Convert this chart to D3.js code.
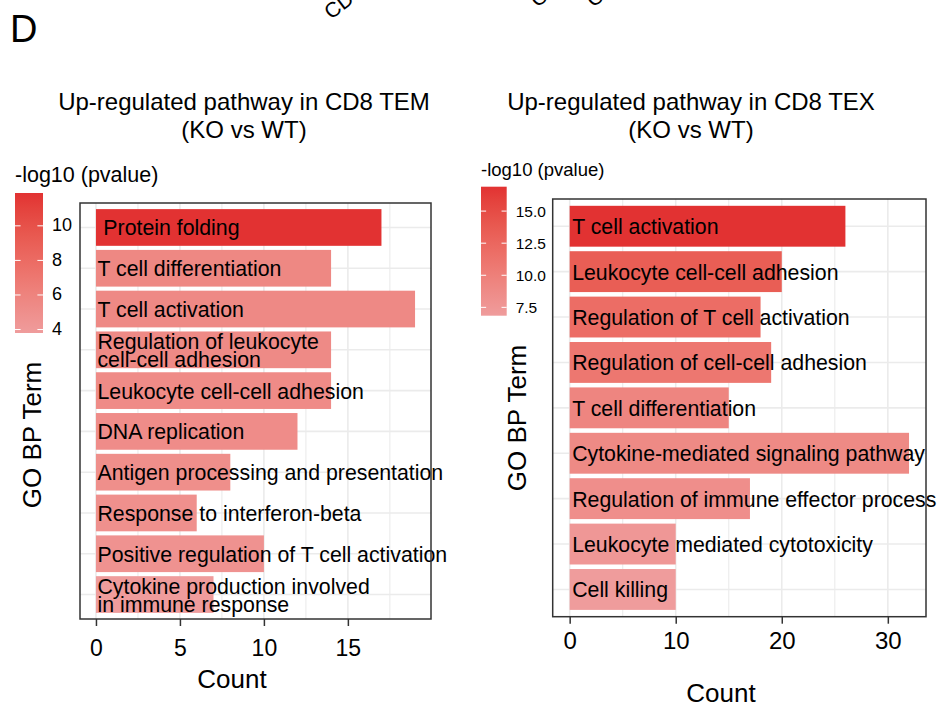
<!DOCTYPE html>
<html>
<head>
<meta charset="utf-8">
<script src="https://cdn.jsdelivr.net/npm/d3@7"></script>
<style>
    body { margin: 0; background: #fff; }
    svg text { font-family: "Liberation Sans", Arial, Helvetica, sans-serif; fill: #000; }
</style>
</head>
<body>
<svg id="chart" width="943" height="704"></svg>
<script>
    // CD8 TEM panel
    const temTerms = [" Protein folding", "T cell differentiation", "T cell activation",
        "Regulation of leukocyte\ncell-cell adhesion", "Leukocyte cell-cell adhesion", "DNA replication",
        "Antigen processing and presentation", "Response to interferon-beta",
        "Positive regulation of T cell activation", "Cytokine production involved\nin immune response"];
    const temCounts = [17, 14, 19, 14, 14, 12, 8, 6, 10, 7];
    const temLogP = [11.9, 5.6, 5.5, 5.4, 5.3, 5.2, 5.0, 4.9, 4.7, 3.8];
    const temTicks = [0, 5, 10, 15];
    const temLegendTicks = [4, 6, 8, 10];

    // CD8 TEX panel
    const texTerms = ["T cell activation", "Leukocyte cell-cell adhesion", "Regulation of T cell activation",
        "Regulation of cell-cell adhesion", "T cell differentiation", "Cytokine-mediated signaling pathway",
        "Regulation of immune effector process", "Leukocyte mediated cytotoxicity", "Cell killing"];
    const texCounts = [26, 20, 18, 19, 15, 32, 17, 10, 10];
    const texLogP = [16.9, 13.4, 11.9, 10.9, 9.4, 8.9, 8.4, 7.4, 6.85];
    const texTicks = [0, 10, 20, 30];
    const texLegendTicks = [7.5, 10, 12.5, 15];

    const lowColor = "#EF9C9C";
    const highColor = "#E23232";

    const svg = d3.select("#chart");

    // panel letter and remnants of the figure above
    svg.append("text").attr("x", 10).attr("y", 42).style("font-size", "38px").text("D");
    svg.append("text").attr("transform", "translate(331,20) rotate(-37)").style("font-size", "21px").text("CD8 TEM");
    svg.append("text").attr("transform", "translate(537,8) rotate(-37)").style("font-size", "21px").text("CD8 T");
    svg.append("text").attr("transform", "translate(593,8) rotate(-37)").style("font-size", "21px").text("CD8 T");

    function drawPanel(cfg) {
        const g = svg.append("g");
        const maxCount = d3.max(cfg.counts);
        const pad = maxCount * 0.05;

        const x = d3.scaleLinear().domain([-pad, maxCount + pad]).range([cfg.left, cfg.right]);
        const y = d3.scaleBand().domain(cfg.terms).range([cfg.top, cfg.bottom])
            .paddingInner(0.1).paddingOuter(0.15);

        const pExtent = d3.extent(cfg.logp);
        const color = d3.scaleLinear().domain(pExtent).range([lowColor, highColor])
            .interpolate(d3.interpolateLab);

        // grid
        const step = cfg.ticks[1] - cfg.ticks[0];
        const minor = cfg.ticks.map(t => t + step / 2).filter(v => v < x.domain()[1]);
        g.selectAll("line.minor").data(minor).enter().append("line")
            .attr("x1", d => x(d)).attr("x2", d => x(d))
            .attr("y1", cfg.top).attr("y2", cfg.bottom)
            .style("stroke", "#EDEDED").style("stroke-width", 1.2);
        g.selectAll("line.major").data(cfg.ticks).enter().append("line")
            .attr("x1", d => x(d)).attr("x2", d => x(d))
            .attr("y1", cfg.top).attr("y2", cfg.bottom)
            .style("stroke", "#EBEBEB").style("stroke-width", 1.6);
        g.selectAll("line.hgrid").data(cfg.terms).enter().append("line")
            .attr("x1", cfg.left).attr("x2", cfg.right)
            .attr("y1", d => y(d) + y.bandwidth() / 2).attr("y2", d => y(d) + y.bandwidth() / 2)
            .style("stroke", "#EBEBEB").style("stroke-width", 1.6);

        // bars
        g.selectAll("rect.bar").data(cfg.terms).enter().append("rect")
            .attr("x", x(0))
            .attr("y", d => y(d))
            .attr("width", (d, i) => x(cfg.counts[i]) - x(0))
            .attr("height", y.bandwidth())
            .style("fill", (d, i) => color(cfg.logp[i]));

        // labels
        const labels = g.selectAll("text.term").data(cfg.terms).enter().append("text")
            .attr("x", x(0) + cfg.labelOffset)
            .style("font-size", "21.3px")
            .style("white-space", "pre");
        labels.each(function (d) {
            const lines = d.split("\n");
            const cy = y(d) + y.bandwidth() / 2;
            const t = d3.select(this);
            if (lines.length === 1) {
                t.attr("y", cy + 8).text(d);
            } else {
                lines.forEach((line, k) => {
                    t.append("tspan").attr("x", x(0) + cfg.labelOffset)
                        .attr("y", cy - 1 + k * 18).text(line);
                });
            }
        });

        // border
        g.append("rect")
            .attr("x", cfg.left).attr("y", cfg.top)
            .attr("width", cfg.right - cfg.left).attr("height", cfg.bottom - cfg.top)
            .style("fill", "none").style("stroke", "#333").style("stroke-width", 1.5);

        // x axis
        const axis = g.append("g")
            .attr("transform", "translate(0," + cfg.bottom + ")")
            .call(d3.axisBottom(x).tickValues(cfg.ticks).tickSize(7).tickSizeOuter(0).tickPadding(0));
        axis.select(".domain").remove();
        axis.selectAll(".tick line").style("stroke", "#333").style("stroke-width", 1.5);
        axis.selectAll(".tick text")
            .attr("dy", null)
            .attr("y", cfg.tickLabelY - cfg.bottom)
            .style("font-size", cfg.tickFont + "px")
            .style("fill", "#000");
        axis.attr("font-family", null).attr("font-size", null);

        // axis titles
        svg.append("text").attr("x", cfg.countX).attr("y", cfg.countY)
            .attr("text-anchor", "middle").style("font-size", "26px").text("Count");
        svg.append("text")
            .attr("transform", "translate(" + cfg.goX + "," + cfg.goY + ") rotate(-90)")
            .attr("text-anchor", "middle").style("font-size", "26px").text("GO BP Term");

        // title
        cfg.title.forEach((line, k) => {
            svg.append("text").attr("x", cfg.titleX).attr("y", 110 + k * 28)
                .attr("text-anchor", "middle").style("font-size", "24px").text(line);
        });

        // legend
        const lg = cfg.legend;
        const gradId = "grad" + cfg.id;
        const grad = svg.append("defs").append("linearGradient").attr("id", gradId)
            .attr("x1", 0).attr("y1", 1).attr("x2", 0).attr("y2", 0);
        d3.range(0, 1.0001, 0.1).forEach(t => {
            grad.append("stop").attr("offset", t)
                .attr("stop-color", color(pExtent[0] + t * (pExtent[1] - pExtent[0])));
        });
        svg.append("text").attr("x", lg.x).attr("y", lg.titleY)
            .style("font-size", lg.titleFont + "px").text("-log10 (pvalue)");
        svg.append("rect").attr("x", lg.x).attr("y", lg.top)
            .attr("width", lg.w).attr("height", lg.bottom - lg.top)
            .style("fill", "url(#" + gradId + ")");
        const ly = d3.scaleLinear().domain(pExtent).range([lg.bottom, lg.top]);
        const tickLen = lg.w / 5;
        cfg.legendTicks.forEach(v => {
            [lg.x, lg.x + lg.w - tickLen].forEach(x0 => {
                svg.append("line").attr("x1", x0).attr("x2", x0 + tickLen)
                    .attr("y1", ly(v)).attr("y2", ly(v))
                    .style("stroke", "#fff").style("stroke-width", 1);
            });
            svg.append("text").attr("x", lg.x + lg.w + 9).attr("y", ly(v) + 5.5)
                .style("font-size", lg.tickFont + "px").text(lg.fmt(v));
        });
    }

    drawPanel({
        id: "tem", terms: temTerms, counts: temCounts, logp: temLogP,
        ticks: temTicks, legendTicks: temLegendTicks,
        left: 80, right: 431, top: 203, bottom: 619,
        labelOffset: 1.5, tickFont: 23, tickLabelY: 656,
        countX: 232, countY: 688, goX: 41, goY: 435,
        title: ["Up-regulated pathway in CD8 TEM", "(KO vs WT)"], titleX: 244,
        legend: { x: 15, w: 28, top: 193, bottom: 333, titleY: 181.5, titleFont: 21.5, tickFont: 18,
            fmt: d3.format("d") }
    });

    drawPanel({
        id: "tex", terms: texTerms, counts: texCounts, logp: texLogP,
        ticks: texTicks, legendTicks: texLegendTicks,
        left: 552.7, right: 926, top: 199, bottom: 616.7,
        labelOffset: 2.5, tickFont: 24, tickLabelY: 649,
        countX: 721, countY: 702, goX: 526, goY: 418,
        title: ["Up-regulated pathway in CD8 TEX", "(KO vs WT)"], titleX: 691,
        legend: { x: 481, w: 25.7, top: 186.7, bottom: 315.7, titleY: 175.5, titleFont: 18.5, tickFont: 15.5,
            fmt: d3.format(".1f") }
    });
</script>
</body>
</html>
